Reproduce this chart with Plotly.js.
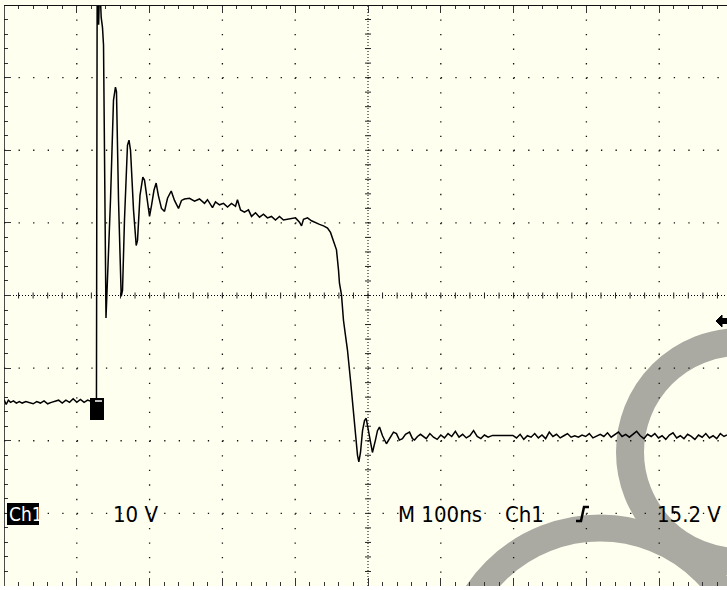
<!DOCTYPE html>
<html><head><meta charset="utf-8">
<script src="https://cdn.plot.ly/plotly-3.0.1.min.js"></script>
<style>html,body{margin:0;padding:0;overflow:hidden;background:#FFFFF0}</style>
</head><body><div id="chart" style="width:727px;height:590px"></div>
<script>
// ---- data (time in ns from left edge of screen, voltage in V) ----
const preT = [0,3,6,9,13,17,21,25,30,35,40,45,50,55,60,65,70,75,80,85,90,95,100,105,110,115,120,124,127];
const preV = [4.4,3.7,4.3,4.0,4.2,3.9,4.1,3.9,4.1,4.0,3.8,4.1,3.9,4.2,3.8,4.0,4.1,4.3,3.9,4.3,4.0,4.5,4.0,4.4,4.0,4.3,4.1,4.0,4.2];
const ringT = [128,130,131.5,133.5,135.3,136.7,140.1,146.3,150.4,153.1,154.5,157.3,161,162.8,165.5,169.6,171.7,173.8,177.9,181.6,183.4,186.8,190.7,193,197.1,199.9,202.6,206,209,212,216.3,220.5,224.6,229.7,234.2,239.7,243.8];
const ringV = [62,56,62,57,55.6,53.2,15.6,31.9,45.6,47.4,46.8,31.9,18.6,19.4,29.1,39.4,40.1,38.7,30.5,25.6,26.3,32.5,35.0,34.6,31.2,29.6,31.1,33.2,34.2,32.5,30.7,30.3,32.1,33.1,31.8,30.7,31.8];
const plateauT = [247.9,254.8,261.7,268.5,275.4,279.5,286.4,290.5,296,301.5,307,312.5,318,320.7,324.9,330.3,335.8,340,345.5,351,356.4,361.9,367.4,372.9,378.4,383.9,389.4,394.9,400.4,405.9,408.7,411.4,416.9,422.4,427.9,433.4,438.9,444.4];
const plateauV = [32.0,32.1,31.7,32.0,31.4,31.9,30.8,31.6,31.2,31.4,30.9,31.4,31.0,31.9,30.5,30.2,30.5,29.6,30.1,29.5,29.9,29.4,29.6,29.1,29.6,29.1,29.2,29.4,29.4,28.8,28.3,29.2,29.4,29.0,28.7,28.5,28.3,28.0];
const fallT = [448.5,451.2,454,456.7,459.5,460.8,463.6,466.3,469.1,471.8,476,480.1,482.8,485.6,487.4,489.7,492.5,495.2,497.5,499.3,502,506.1,510.2,513,515.8,519.9,525.3,529.5,535,539.1,543.2,547.3,551.5,557,561.1,563.9,568,572.1,574.8];
const fallV = [27.4,26.6,25.9,25.0,22.2,20.4,18.8,15.3,13.2,11.2,7.0,2.2,-1.2,-3.3,-4.2,-2.9,0.1,1.5,1.8,0.8,-1.2,-2.9,-1.2,0.1,0.6,-0.6,-1.7,-1.0,-0.1,-0.3,-1.2,-1.0,-0.4,-0.1,-1.0,-1.2,-0.7,-0.4,-0.6];
const postT = [580,585,590,595,600,605,610,615,620,625,630,635,640,645,650,655,660,665,671,699,704,709,714,719,724,729,734,739,744,749,754,759,764,769,774,779,784,789,794,799,804,809,814,819,824,829,834,839,844,849,854,859,864,869,874,879,884,889,894,899,904,909,914,919,924,929,934,939,944,949,954,959,964,969,974,979,984,989,993];
const postV = [-1.0,-0.3,-0.8,-1.1,-0.5,-0.9,-0.3,-0.7,0.0,-0.8,-0.4,-0.9,-0.6,0.1,-0.7,-1.0,-0.5,-0.8,-0.55,-0.55,-0.9,-0.4,-1.1,-0.6,-0.8,-0.3,-0.9,-0.5,-1.0,-0.1,-0.7,-0.4,-0.9,-0.6,-0.3,-0.8,-0.6,-0.8,-0.5,-0.7,-0.3,-0.9,-0.6,-0.4,-0.7,-0.2,-0.8,-0.5,-0.1,-0.7,-0.4,-0.8,-0.4,0.0,-0.6,-1.0,-0.4,-0.7,-0.3,-0.9,-0.6,-1.1,-0.5,-0.2,-0.9,-0.6,-1.0,-0.4,-0.7,-1.1,-0.5,-0.8,-0.3,-0.9,-0.6,-1.0,-0.3,-0.7,-0.5];

const labels = {ch: "Ch1", scale: "10 V", time: "M 100ns", trigCh: "Ch1", trigLevel: "15.2 V"};
const trigLevelV = 15.2;

// ---- screen geometry ----
const W = 727, H = 590;
const L = 4, T = 5, B = 4;
const plotW = W - L, plotH = H - T - B;          // 723 x 581
const pxPerNs = 0.728;                          // 72.8 px per 100 ns
const pxPerV = plotH / 80;                      // 8 div * 10 V
const gndPx = 321 + trigLevelV * pxPerV;        // screen row of 0 V
const xMax = plotW / pxPerNs;
const yTop = (gndPx - T) / pxPerV, yBot = (gndPx - (T + plotH)) / pxPerV;
const yCenter = (yTop + yBot) / 2;
const X = px => (px - L) / pxPerNs;
const Y = py => (gndPx - py) / pxPerV;
const PX = px => (px - L) / plotW;
const PY = py => (T + plotH - py) / plotH;

const t = [].concat(preT, ringT, plateauT, fallT, postT);
const v = [].concat(preV, ringV, plateauV, fallV, postV);

const shapes = [];
// watermark
const grey = 'rgb(170,170,162)';
const ring = (cx, cy, r, w) => ({type:'circle', xref:'x', yref:'y', x0:X(cx - r), x1:X(cx + r), y0:Y(cy + r), y1:Y(cy - r), line:{color:grey, width:w}, layer:'below'});
shapes.push(ring(740, 452, 110, 28));
shapes.push(ring(600, 676, 148, 27));
// graticule: dotted major lines (dots at minor-division spacing)
const vDiv = plotH / 8, hDiv = 72.8;
for (let k = 1; k * 100 < xMax; k++) {
  if (k === 5) continue;
  shapes.push({type:'line', xref:'x', yref:'y', x0:k*100, x1:k*100, y0:yTop, y1:yBot, layer:'below',
    line:{color:'#111', width:1.3, dash:'1.3px,' + (vDiv/5 - 1.3).toFixed(3) + 'px'}});
}
for (let k = 1; k < 8; k++) {
  if (k === 4) continue;
  const vv = yTop - k * 10;
  shapes.push({type:'line', xref:'x', yref:'y', x0:0, x1:xMax, y0:vv, y1:vv, layer:'below',
    line:{color:'#111', width:1.3, dash:'1.3px,' + (hDiv/5 - 1.3).toFixed(3) + 'px'}});
}
// centre lines (dense dots)
shapes.push({type:'line', xref:'x', yref:'y', x0:0, x1:xMax, y0:yCenter, y1:yCenter, line:{color:'#000', width:1, dash:'1px,2px'}, layer:'below'});
shapes.push({type:'line', xref:'x', yref:'y', x0:500, x1:500, y0:yBot, y1:yTop, line:{color:'#000', width:1, dash:'1px,2px'}, layer:'below'});
// centre line minor ticks
for (let k = 1; k < 50; k++) {
  const tt = k * 20;
  if (tt > xMax) break;
  shapes.push({type:'line', xref:'x', yref:'y', x0:tt, x1:tt, y0:yCenter - 3/pxPerV, y1:yCenter + 3/pxPerV, line:{color:'#222', width:1}, layer:'below'});
}
for (let k = -20; k <= 20; k++) {
  const vv = yCenter + k * 2;
  if (vv <= yBot || vv >= yTop) continue;
  shapes.push({type:'line', xref:'x', yref:'y', x0:500 - 3/pxPerNs, x1:500 + 3/pxPerNs, y0:vv, y1:vv, line:{color:'#222', width:1}, layer:'below'});
}
// borders
shapes.push({type:'line', xref:'x', yref:'y', x0:0, x1:xMax, y0:yTop, y1:yTop, line:{color:'#111', width:2}});
shapes.push({type:'line', xref:'x', yref:'y', x0:0, x1:0, y0:yBot, y1:yTop, line:{color:'#111', width:1.5}});
// trigger position marker
shapes.push({type:'rect', xref:'x', yref:'y', x0:X(90), x1:X(104), y0:Y(420), y1:Y(398), fillcolor:'#000', line:{width:0}, layer:'above'});
shapes.push({type:'line', xref:'x', yref:'y', x0:X(95), x1:X(102), y0:Y(401), y1:Y(401), line:{color:'#fff', width:1.5}, layer:'above'});
// trigger level arrow
shapes.push({type:'path', xref:'x', yref:'y', layer:'above',
  path:`M${X(716)},${Y(321)} L${X(722)},${Y(315)} L${X(722)},${Y(318.5)} L${X(727)},${Y(318.5)} L${X(727)},${Y(323.5)} L${X(722)},${Y(323.5)} L${X(722)},${Y(327)} Z`,
  fillcolor:'#000', line:{color:'#000', width:1}});
// Ch1 box
shapes.push({type:'rect', xref:'paper', yref:'paper', x0:PX(7), x1:PX(39), y0:PY(525), y1:PY(503), fillcolor:'#000', line:{width:0}, layer:'above'});
// rising edge symbol
shapes.push({type:'path', xref:'paper', yref:'paper', layer:'above',
  path:`M${PX(576)},${PY(521)} L${PX(581)},${PY(521)} L${PX(584)},${PY(507)} L${PX(589)},${PY(507)}`,
  line:{color:'#000', width:2.5}});
// white strip below screen
shapes.push({type:'rect', xref:'paper', yref:'paper', x0:-0.1, x1:1.1, y0:PY(591), y1:PY(586), fillcolor:'#fff', line:{width:0}});

const font = 'DejaVu Sans Condensed, DejaVu Sans, sans-serif';
const ann = (txt, px, size, col, fam) => ({text:txt, xref:'paper', yref:'paper', x:PX(px), y:PY(514), xanchor:'left', yanchor:'middle', showarrow:false, font:{family:fam||font, size:size, color:col||'#000'}});
const annotations = [
  ann(labels.ch, 7, 19, '#fff', 'DejaVu Sans Condensed, DejaVu Sans, sans-serif'),
  ann(labels.scale, 111, 22),
  ann(labels.time, 396, 22),
  ann(labels.trigCh, 503, 22),
  ann(labels.trigLevel, 655, 22)
];

const trace = {x:t, y:v, type:'scatter', mode:'lines', line:{color:'#000', width:1.5}, hoverinfo:'skip'};

const layout = {
  width: W, height: H,
  margin: {l:L, r:0, t:T, b:B, pad:0},
  paper_bgcolor: '#FFFFF0', plot_bgcolor: '#FFFFF0',
  showlegend: false,
  xaxis: {range:[0, xMax], showgrid:false,
          tick0:0, dtick:100, ticks:'inside', ticklen:8, tickcolor:'#333', tickwidth:1,
          minor:{dtick:20, tick0:0, ticks:'inside', ticklen:4, tickcolor:'#333', showgrid:false},
          showline:true, linecolor:'rgba(0,0,0,0)', mirror:'ticks',
          showticklabels:false, zeroline:false, fixedrange:true},
  yaxis: {range:[yBot, yTop], showgrid:false,
          tick0:yCenter, dtick:10, ticks:'inside', ticklen:7, tickcolor:'#333', tickwidth:1,
          minor:{dtick:2, tick0:yCenter, ticks:'inside', ticklen:4, tickcolor:'#333', showgrid:false},
          showline:false, showticklabels:false, zeroline:false, fixedrange:true},
  shapes: shapes,
  annotations: annotations
};
Plotly.newPlot('chart', [trace], layout, {staticPlot:true, displayModeBar:false});
</script></body></html>
